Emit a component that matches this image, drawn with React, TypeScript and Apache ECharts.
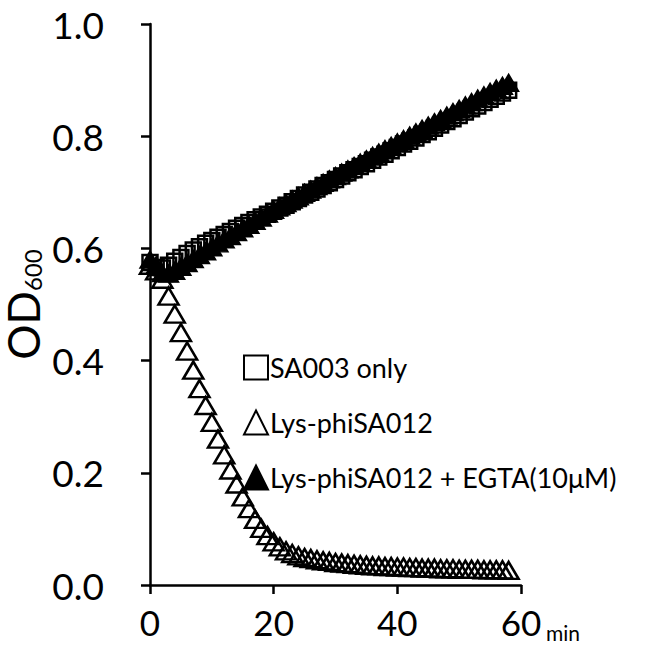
import React, { useEffect, useRef } from "react";
import * as echarts from "echarts";

const times = [
  0, 1, 2, 3, 4, 5, 6, 7, 8, 9, 10, 11, 12, 13, 14, 15, 16, 17, 18, 19, 20,
  21, 22, 23, 24, 25, 26, 27, 28, 29, 30, 31, 32, 33, 34, 35, 36, 37, 38, 39,
  40, 41, 42, 43, 44, 45, 46, 47, 48, 49, 50, 51, 52, 53, 54, 55, 56, 57, 58,
];

const sa003Only = [
  0.575, 0.566, 0.565, 0.57, 0.577, 0.584, 0.591, 0.597, 0.603, 0.609, 0.614,
  0.62, 0.625, 0.63, 0.636, 0.641, 0.646, 0.651, 0.656, 0.661, 0.666, 0.672,
  0.677, 0.683, 0.689, 0.695, 0.7, 0.706, 0.712, 0.717, 0.723, 0.729, 0.735,
  0.74, 0.746, 0.751, 0.757, 0.763, 0.768, 0.774, 0.78, 0.786, 0.791, 0.797,
  0.803, 0.808, 0.814, 0.82, 0.826, 0.831, 0.837, 0.843, 0.849, 0.854, 0.86,
  0.866, 0.871, 0.877, 0.882,
];

const lysPhiSA012 = [
  0.57, 0.56, 0.545, 0.515, 0.483, 0.45, 0.417, 0.383, 0.35, 0.32, 0.29,
  0.26, 0.232, 0.205, 0.18, 0.157, 0.136, 0.117, 0.101, 0.088, 0.077, 0.068,
  0.061, 0.056, 0.052, 0.049, 0.047, 0.045, 0.043, 0.042, 0.04, 0.039, 0.038,
  0.037, 0.036, 0.035, 0.034, 0.034, 0.033, 0.033, 0.032, 0.032, 0.031, 0.031,
  0.03, 0.03, 0.03, 0.029, 0.029, 0.029, 0.028, 0.028, 0.028, 0.028, 0.027,
  0.027, 0.027, 0.027, 0.026,
];

const lysEGTA = [
  0.58, 0.57, 0.556, 0.555, 0.56, 0.567, 0.574, 0.581, 0.588, 0.595, 0.602,
  0.609, 0.616, 0.622, 0.629, 0.636, 0.642, 0.649, 0.655, 0.662, 0.669, 0.675,
  0.681, 0.687, 0.693, 0.699, 0.705, 0.711, 0.717, 0.723, 0.729, 0.735, 0.741,
  0.747, 0.753, 0.759, 0.765, 0.771, 0.777, 0.783, 0.789, 0.795, 0.801, 0.807,
  0.813, 0.819, 0.825, 0.831, 0.837, 0.843, 0.849, 0.855, 0.861, 0.867, 0.873,
  0.879, 0.885, 0.89, 0.895,
];

const seriesNames = ["SA003 only", "Lys-phiSA012", "Lys-phiSA012 + EGTA(10μM)"];
const xTicks = [0, 20, 40, 60];
const FONT = "Lato, 'Noto Sans', sans-serif";

export default function App() {
  const ref = useRef<HTMLDivElement>(null);
  useEffect(() => {
    if (!ref.current) return;
    const chart = echarts.init(ref.current, undefined, { renderer: "svg" });
    const pair = (arr: number[]) => times.map((t, i) => [t, arr[i]]);
    const hollow = { color: "rgba(0,0,0,0)", borderColor: "#000", borderWidth: 2.5, opacity: 1 };
    chart.setOption({
      animation: false,
      textStyle: { fontFamily: FONT, color: "#000" },
      grid: { left: 150, top: 24, right: 126, bottom: 69, outerBoundsMode: "none" },
      legend: {
        orient: "vertical",
        left: 238,
        top: 349,
        itemWidth: 24,
        itemHeight: 24,
        itemGap: 28,
        data: seriesNames,
        textStyle: { fontSize: 27, color: "#000", fontFamily: FONT, padding: [0, 0, 0, -3] },
      },
      xAxis: {
        type: "value",
        min: 0,
        max: 60,
        interval: 20,
        splitLine: { show: false },
        axisLine: { lineStyle: { color: "#000", width: 2.5 } },
        axisTick: { show: true, length: 9, lineStyle: { color: "#000", width: 2.5 } },
        axisLabel: {
          fontSize: 35,
          color: "#000",
          margin: 19,
          fontFamily: FONT,
          formatter: (v: number) => (xTicks.includes(v) ? String(v) : ""),
        },
      },
      yAxis: {
        type: "value",
        min: 0,
        max: 1,
        interval: 0.2,
        splitLine: { show: false },
        axisLine: { show: true, lineStyle: { color: "#000", width: 2.5 } },
        axisTick: { show: true, length: 9, lineStyle: { color: "#000", width: 2.5 } },
        axisLabel: {
          fontSize: 37,
          color: "#000",
          margin: 46,
          fontFamily: FONT,
          formatter: (v: number) => v.toFixed(1),
        },
        name: "{m|OD}{s|600}",
        nameLocation: "middle",
        nameGap: 105,
        nameMoveOverlap: false,
        nameTextStyle: {
          rich: {
            m: { fontSize: 44, color: "#000", fontFamily: FONT },
            s: { fontSize: 24, color: "#000", fontFamily: FONT, padding: [19, 0, 0, 0] },
          },
        },
      },
      graphic: [
        {
          type: "text",
          left: 546,
          top: 622,
          style: { text: "min", fontSize: 21, fill: "#000", fontFamily: FONT },
        },
      ],
      series: [
        {
          name: seriesNames[0],
          type: "scatter",
          symbol: "rect",
          symbolSize: 15,
          itemStyle: hollow,
          data: pair(sa003Only),
        },
        {
          name: seriesNames[1],
          type: "scatter",
          symbol: "triangle",
          symbolSize: [20, 17],
          itemStyle: hollow,
          data: pair(lysPhiSA012),
        },
        {
          name: seriesNames[2],
          type: "scatter",
          symbol: "triangle",
          symbolSize: [20, 17],
          itemStyle: { color: "#000", borderColor: "#000", borderWidth: 1.5, opacity: 1 },
          data: pair(lysEGTA),
        },
      ],
    });
    return () => chart.dispose();
  }, []);
  return (
    <div
      ref={ref}
      style={{ position: "absolute", left: 0, top: 0, width: 647, height: 654 }}
    />
  );
}
